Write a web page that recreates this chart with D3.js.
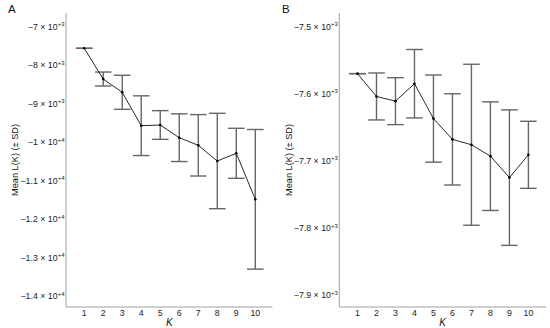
<!DOCTYPE html>
<html><head><meta charset="utf-8">
<script src="https://cdn.jsdelivr.net/npm/d3@7"></script>
<style>body{margin:0;background:#fff}svg{display:block}text{font-family:"Liberation Sans",Arial,sans-serif}</style>
</head><body><svg id="c" width="550" height="328"></svg>
<script>
const kValues = [1,2,3,4,5,6,7,8,9,10];
const meanA = [-7561,-8360,-8705,-9573,-9555,-9885,-10083,-10491,-10291,-11487];
const sdA   = [0,181,442,776,373,620,798,1240,650,1815];
const ticksA = [-7000,-8000,-9000,-10000,-11000,-12000,-13000,-14000];
const tickLabelsA = [["−7 × 10","+3"],["−8 × 10","+3"],["−9 × 10","+3"],["−1 × 10","+4"],["−1.1 × 10","+4"],["−1.2 × 10","+4"],["−1.3 × 10","+4"],["−1.4 × 10","+4"]];
const meanB = [-7570,-7604,-7611,-7585,-7637,-7668,-7676,-7693,-7725,-7691];
const sdB   = [0,35,35,51,65,68,120,81,101,50];
const ticksB = [-7500,-7600,-7700,-7800,-7900];
const tickLabelsB = [["−7.5 × 10","+3"],["−7.6 × 10","+3"],["−7.7 × 10","+3"],["−7.8 × 10","+3"],["−7.9 × 10","+3"]];

const svg = d3.select("#c");

function panel(o){
  const g = svg.append("g");
  const x = d3.scaleLinear().domain([1,10]).range(o.xr);
  const y = d3.scaleLinear().domain(o.yd).range(o.yr);
  g.append("text").attr("x",o.lx).attr("y",13).attr("font-size",11.5).attr("fill","#111").text(o.letter);
  g.append("line").attr("x1",o.ax).attr("x2",o.ax).attr("y1",13).attr("y2",307).attr("stroke","#a0a0a0").attr("stroke-width",1);
  g.append("line").attr("x1",o.ax).attr("x2",o.axEnd).attr("y1",307).attr("y2",307).attr("stroke","#a0a0a0").attr("stroke-width",1);
  o.ticks.forEach((t,i)=>{
    const tx = g.append("text").attr("x",o.ax-1.5).attr("y",y(t)+3.2).attr("text-anchor","end").attr("font-size",8.8).attr("fill","#222");
    tx.append("tspan").text(o.labels[i][0]);
    tx.append("tspan").attr("dy",-3.6).attr("font-size",6).text(o.labels[i][1]);
  });
  kValues.forEach(k=>{
    g.append("text").attr("x",x(k)).attr("y",316).attr("text-anchor","middle").attr("font-size",8.8).attr("fill","#222").text(k);
  });
  g.append("text").attr("x",(o.ax+o.axEnd)/2).attr("y",325.5).attr("text-anchor","middle").attr("font-size",10).attr("font-style","italic").attr("fill","#111").text("K");
  g.append("text").attr("transform",`translate(${o.tx},160) rotate(-90)`).attr("text-anchor","middle").attr("font-size",9.2).attr("fill","#111").text("Mean L(K) (± SD)");
  const eb = g.append("g").attr("stroke","#666").attr("stroke-width",1.4).attr("fill","none");
  kValues.forEach((k,i)=>{
    const m=o.mean[i], s=o.sd[i];
    eb.append("line").attr("x1",x(k)).attr("x2",x(k)).attr("y1",y(m+s)).attr("y2",y(m-s));
    eb.append("line").attr("x1",x(k)-8.3).attr("x2",x(k)+8.3).attr("y1",y(m+s)).attr("y2",y(m+s));
    eb.append("line").attr("x1",x(k)-8.3).attr("x2",x(k)+8.3).attr("y1",y(m-s)).attr("y2",y(m-s));
  });
  const line = d3.line().x((d,i)=>x(kValues[i])).y(d=>y(d));
  g.append("path").datum(o.mean).attr("d",line).attr("fill","none").attr("stroke","#111").attr("stroke-width",0.9);
  g.selectAll("circle.p").data(o.mean).enter().append("circle").attr("cx",(d,i)=>x(kValues[i])).attr("cy",d=>y(d)).attr("r",1.3).attr("fill","#000");
}

panel({letter:"A",lx:8,ax:66,axEnd:272.5,xr:[84.2,255.3],yd:[-14000,-7000],yr:[296,26.7],ticks:ticksA,labels:tickLabelsA,mean:meanA,sd:sdA,tx:18});
panel({letter:"B",lx:282,ax:339.3,axEnd:546,xr:[357.5,528.4],yd:[-7900,-7500],yr:[295,26.7],ticks:ticksB,labels:tickLabelsB,mean:meanB,sd:sdB,tx:291.5});
</script></body></html>
